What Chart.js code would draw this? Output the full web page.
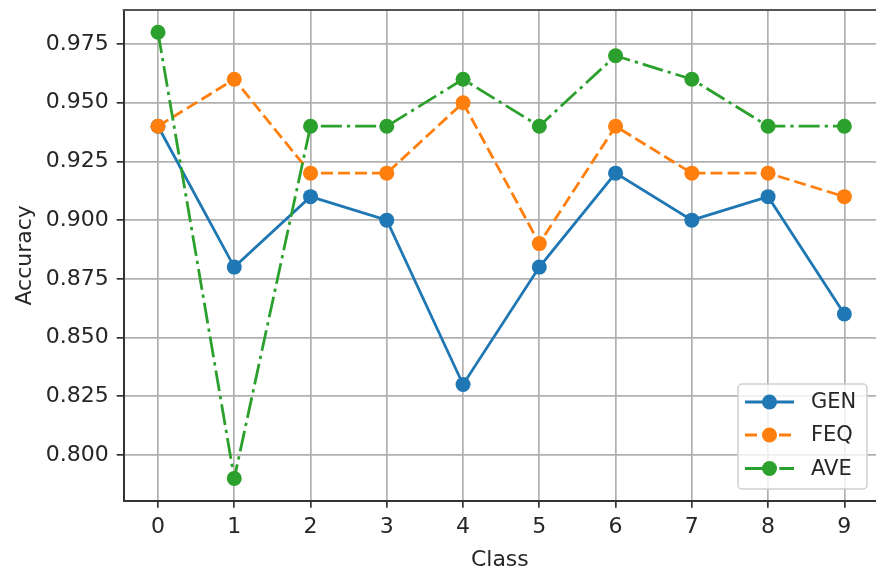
<!DOCTYPE html>
<html>
<head>
<meta charset="utf-8">
<script src="https://cdn.jsdelivr.net/npm/chart.js@4"></script>
<style>
  html, body { margin: 0; padding: 0; background: #fff; overflow: hidden; }
  #wrap { width: 876px; height: 571px; position: relative; }
</style>
</head>
<body>
<div id="wrap"><canvas id="c" width="876" height="571"></canvas></div>
<script>
const classes = [0, 1, 2, 3, 4, 5, 6, 7, 8, 9];
const genValues = [0.94, 0.88, 0.91, 0.90, 0.83, 0.88, 0.92, 0.90, 0.91, 0.86];
const feqValues = [0.94, 0.96, 0.92, 0.92, 0.95, 0.89, 0.94, 0.92, 0.92, 0.91];
const aveValues = [0.98, 0.79, 0.94, 0.94, 0.96, 0.94, 0.97, 0.96, 0.94, 0.94];
const yTickValues = [0.800, 0.825, 0.850, 0.875, 0.900, 0.925, 0.950, 0.975];
const xTickValues = [0, 1, 2, 3, 4, 5, 6, 7, 8, 9];
const seriesNames = ['GEN', 'FEQ', 'AVE'];

const FONT = 'DejaVu Sans';
const FS = 22;
const TXT = '#262626';
const colors = ['#1f77b4', '#ff7f0e', '#2ca02c'];
const dashes = [[], [12, 5], [21, 5, 3.3, 5]];

function pts(vals) { return classes.map((c, i) => ({ x: c, y: vals[i] })); }

const allSeries = [genValues, feqValues, aveValues];
const datasets = allSeries.map((vals, i) => ({
  label: seriesNames[i],
  data: pts(vals),
  borderColor: colors[i],
  backgroundColor: colors[i],
  pointBackgroundColor: colors[i],
  pointBorderColor: colors[i],
  pointBorderWidth: 0,
  pointRadius: 7.5,
  borderWidth: 2.8,
  borderDash: dashes[i],
  tension: 0,
  order: 3 - i
}));

const framePlugin = {
  id: 'frame',
  afterDraw(chart) {
    const { ctx, chartArea: a } = chart;
    ctx.save();
    ctx.strokeStyle = '#555';
    ctx.lineWidth = 2;
    ctx.beginPath();
    ctx.moveTo(a.left - 1, a.top);
    ctx.lineTo(a.right + 2, a.top);
    ctx.stroke();
    ctx.restore();
  }
};

const legendPlugin = {
  id: 'mplLegend',
  afterDraw(chart) {
    const ctx = chart.ctx;
    const x0 = 738, y0 = 384, w = 129, h = 105, r = 4;
    ctx.save();
    ctx.beginPath();
    ctx.moveTo(x0 + r, y0);
    ctx.arcTo(x0 + w, y0, x0 + w, y0 + h, r);
    ctx.arcTo(x0 + w, y0 + h, x0, y0 + h, r);
    ctx.arcTo(x0, y0 + h, x0, y0, r);
    ctx.arcTo(x0, y0, x0 + w, y0, r);
    ctx.closePath();
    ctx.fillStyle = 'rgba(255,255,255,0.8)';
    ctx.fill();
    ctx.strokeStyle = '#d0d0d0';
    ctx.lineWidth = 1.5;
    ctx.stroke();
    const ys = [402, 435, 468.5];
    chart.data.datasets.forEach((ds, i) => {
      const y = ys[i];
      ctx.strokeStyle = ds.borderColor;
      ctx.lineWidth = ds.borderWidth;
      ctx.setLineDash(ds.borderDash);
      ctx.beginPath();
      ctx.moveTo(745, y);
      ctx.lineTo(794, y);
      ctx.stroke();
      ctx.setLineDash([]);
      ctx.fillStyle = ds.pointBackgroundColor;
      ctx.beginPath();
      ctx.arc(769.5, y, 7.5, 0, Math.PI * 2);
      ctx.fill();
      ctx.fillStyle = TXT;
      ctx.font = '21px "' + FONT + '"';
      ctx.textBaseline = 'middle';
      ctx.textAlign = 'left';
      ctx.fillText(ds.label, 811, y + 1);
    });
    ctx.restore();
  }
};

new Chart(document.getElementById('c'), {
  type: 'line',
  data: { datasets },
  plugins: [framePlugin, legendPlugin],
  options: {
    responsive: false,
    animation: false,
    devicePixelRatio: 1,
    layout: { autoPadding: false, padding: { left: 0, top: 10, right: 0, bottom: 0 } },
    plugins: { legend: { display: false }, tooltip: { enabled: false } },
    scales: {
      x: {
        type: 'linear',
        min: -0.45,
        max: 9.415,
        afterBuildTicks: (s) => { s.ticks = xTickValues.map(v => ({ value: v })); },
        afterFit: (s) => { s.height = 70.3; s.paddingLeft = 0; s.paddingRight = 0; },
        grid: { color: '#b0b0b0', lineWidth: 1.7, tickColor: '#333', tickLength: 7 },
        border: { color: '#333', width: 2 },
        ticks: { color: TXT, font: { family: FONT, size: FS }, padding: 6, maxRotation: 0, autoSkip: false, callback: v => String(v) },
        title: { display: true, text: 'Class', color: TXT, font: { family: FONT, size: FS }, padding: { top: 0, bottom: -2 } }
      },
      y: {
        type: 'linear',
        min: 0.7805,
        max: 0.9895,
        afterBuildTicks: (s) => { s.ticks = yTickValues.map(v => ({ value: v })); },
        afterFit: (s) => { s.width = 123.7; s.paddingTop = 0; s.paddingBottom = 0; },
        grid: { color: '#b0b0b0', lineWidth: 1.7, tickColor: '#333', tickLength: 7 },
        border: { color: '#333', width: 2 },
        ticks: { color: TXT, font: { family: FONT, size: FS }, padding: 8, autoSkip: false, callback: v => v.toFixed(3) },
        title: { display: true, text: 'Accuracy', color: TXT, font: { family: FONT, size: FS }, padding: { top: 12, bottom: 0 } }
      }
    }
  }
});
</script>
</body>
</html>
